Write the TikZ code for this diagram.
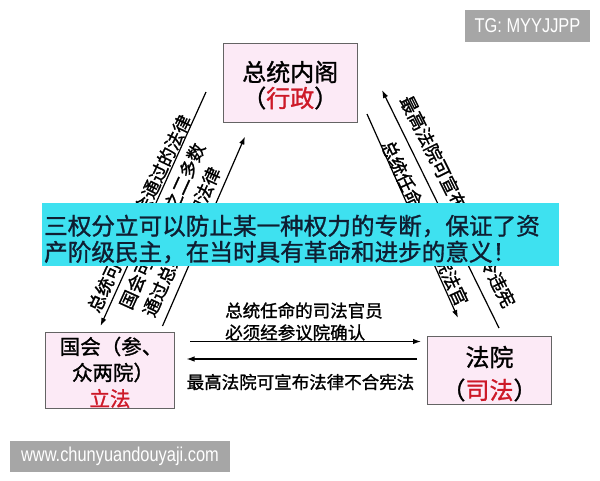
\documentclass[tikz,border=0pt]{standalone}
\usepackage{fontspec}
\setmainfont{Noto Sans CJK SC}[FakeBold=1.2]
\newfontfamily\latinsans{Liberation Sans}
\usetikzlibrary{arrows.meta,calc}
\definecolor{boxfill}{RGB}{252,234,246}
\definecolor{boxline}{RGB}{100,100,100}
\definecolor{redtxt}{RGB}{205,25,40}
\definecolor{bannercyan}{RGB}{62,225,240}
\definecolor{bannertxt}{RGB}{15,30,50}
\definecolor{taggray}{RGB}{166,166,166}
\begin{document}
\begin{tikzpicture}[x=1pt,y=-1pt,
  powerbox/.style={draw=boxline, line width=1pt, fill=boxfill, rectangle, inner sep=0pt},
  arr/.style={line width=1.2pt, -{Latex[length=8pt,width=5.5pt]}},
  diaglbl/.style={font=\fontsize{18}{18}\selectfont, inner sep=0pt},
  hlbl/.style={font=\fontsize{17.5}{17.5}\selectfont, inner sep=0pt},
  boxtxt/.style={inner sep=0pt},
  bantxt/.style={font=\fontsize{23.6}{23.6}\selectfont, text=bannertxt, inner sep=0pt, anchor=west},
  tag/.style={fill=taggray, text=white, inner sep=0pt, font=\latinsans\fontsize{20}{20}\selectfont}]
\useasboundingbox (0,0) rectangle (600,480);
\fill[white] (0,0) rectangle (600,480);

% diagonal arrows, left
\coordinate (lo1) at (206,92);
\coordinate (lo2) at (100.5,326);
\draw[arr] (lo1) -- (lo2);
\coordinate (li1) at (162.5,326);
\coordinate (li2) at (245,136.5);
\draw[arr] (li1) -- (li2);
\node[diaglbl, rotate=64.5] (lolbl) at (139.3,213.5) {总统可否决国会通过的法律};
\node[diaglbl, rotate=65.5] (lil1) at (162.2,226) {国会可以三分之二多数};
\node[diaglbl, rotate=65.5] (lil2) at (181.5,241.8) {通过总统否决的法律};

% diagonal arrows, right
\coordinate (ro1) at (499,328);
\coordinate (ro2) at (382,90);
\draw[arr] (ro1) -- (ro2);
\coordinate (ri1) at (367,114);
\coordinate (ri2) at (458,318);
\draw[arr] (ri1) -- (ri2);
\node[diaglbl, rotate=-63.5] (rolbl) at (457.7,201.5) {最高法院可宣布总统命令违宪};
\node[diaglbl, rotate=-65] (rilbl) at (425,223) {总统任命最高法院法官};

% horizontal arrows
\coordinate (ha1) at (190,341.5);
\coordinate (ha2) at (421,341.5);
\draw[arr] (ha1) -- (ha2);
\coordinate (hb1) at (417,359);
\coordinate (hb2) at (186.5,359);
\draw[arr] (hb1) -- (hb2);
\node[hlbl, anchor=west] (appt1) at (225,310.5) {总统任命的司法官员};
\node[hlbl, anchor=west] (appt2) at (225,332.5) {必须经参议院确认};
\node[hlbl] (review) at (300.5,382) {最高法院可宣布法律不合宪法};

% banner
\node[fill=bannercyan, minimum width=516.5pt, minimum height=62.5pt, inner sep=0pt] (banner) at (300.25,234.25) {};
\node[bantxt] (ban1) at (44,226) {三权分立可以防止某一种权力的专断，保证了资};
\node[bantxt] (ban2) at (44,252) {产阶级民主，在当时具有革命和进步的意义！};

% power boxes
\node[powerbox, minimum width=133.5pt, minimum height=79pt] (exec) at (290.25,82.5) {};
\node[boxtxt, font=\fontsize{24}{24}\selectfont] (exec1) at (290.25,72) {总统内阁};
\node[boxtxt, font=\fontsize{24}{24}\selectfont] (exec2) at (290.25,98) {（\textcolor{redtxt}{行政}）};

\node[powerbox, minimum width=129pt, minimum height=76.5pt] (leg) at (110,370.25) {};
\node[boxtxt, font=\fontsize{20.5}{20.5}\selectfont] (leg1) at (111,346.5) {国会（参、};
\node[boxtxt, font=\fontsize{20.5}{20.5}\selectfont] (leg2) at (113,372.5) {众两院）};
\node[boxtxt, font=\fontsize{20.5}{20.5}\selectfont, text=redtxt] (leg3) at (110,398.5) {立法};

\node[powerbox, minimum width=124pt, minimum height=68pt] (jud) at (489.5,370) {};
\node[boxtxt, font=\fontsize{24}{24}\selectfont] (jud1) at (489.5,357) {法院};
\node[boxtxt, font=\fontsize{24}{24}\selectfont] (jud2) at (489.5,390) {（\textcolor{redtxt}{司法}）};

% watermark tags
\node[tag, minimum width=125pt, minimum height=32pt] (tg) at (527.5,26) {\scalebox{0.82}[1]{TG: MYYJJPP}};
\node[tag, minimum width=220pt, minimum height=31pt] (web) at (120,456.5) {\scalebox{0.82}[1]{www.chunyuandouyaji.com}};
\end{tikzpicture}
\end{document}
